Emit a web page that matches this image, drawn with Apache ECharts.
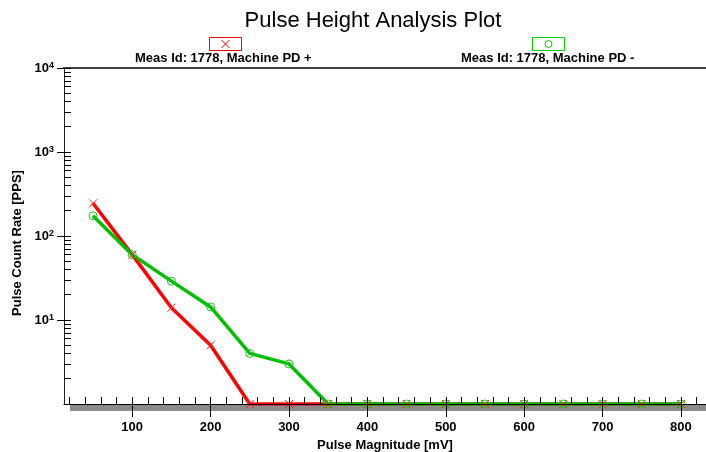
<!DOCTYPE html>
<html>
<head>
<meta charset="utf-8">
<script src="https://cdn.jsdelivr.net/npm/echarts/dist/echarts.min.js"></script>
<style>
html,body{margin:0;padding:0;background:#fff;}
#chart{width:706px;height:452px;}
</style>
</head>
<body>
<div id="chart"></div>
<script>
// ---- data ----
const magnitudes = [50, 100, 150, 200, 250, 300, 350, 400, 450, 500, 550, 600, 650, 700, 750, 800];
// counts of 0 are drawn on the axis floor (1 PPS, the log axis minimum)
const pdPlus  = [245, 60, 14, 5, 1, 1, 1, 1, 1, 1, 1, 1, 1, 1, 1, 1];
const pdMinus = [174, 60, 29, 14.3, 4, 3, 1, 1, 1, 1, 1, 1, 1, 1, 1, 1];
const seriesNames = ['Meas Id: 1778, Machine PD +', 'Meas Id: 1778, Machine PD -'];
const xLabelTicks = [100, 200, 300, 400, 500, 600, 700, 800];
const xMinorTicks = [20, 40, 60, 80, 100, 120, 140, 160, 180, 200, 220, 240, 260, 280, 300,
  320, 340, 360, 380, 400, 420, 440, 460, 480, 500, 520, 540, 560, 580, 600,
  620, 640, 660, 680, 700, 720, 740, 760, 780, 800, 820];
const yLabelTicks = [10, 100, 1000, 10000];
const yMinorTicks = [2, 3, 4, 5, 6, 7, 8, 9, 10, 20, 30, 40, 50, 60, 70, 80, 90, 100,
  200, 300, 400, 500, 600, 700, 800, 900, 1000, 2000, 3000, 4000, 5000, 6000, 7000, 8000, 9000, 10000];

const FONT = '"Liberation Sans", Arial, sans-serif';
const RED = '#ff0000';
const GREEN = '#00c000';
const X_MIN = 13, X_MAX = 832;

const chart = echarts.init(document.getElementById('chart'));
const boxCross = 'path://M0,0H32V13H0Z M12,2.5L20,10.5 M20,2.5L12,10.5';
const boxCircle = 'path://M0,0H32V13H0Z M19.5,6.5A3.5,3.5 0 1 1 12.5,6.5A3.5,3.5 0 1 1 19.5,6.5';

const legendText = {fontFamily: FONT, fontWeight: 'bold', fontSize: 13, color: '#000'};

const option = {
  backgroundColor: '#fff',
  animation: false,
  title: {
    text: 'Pulse Height Analysis Plot',
    left: 373, top: 10, padding: 0, textAlign: 'center',
    textStyle: {fontFamily: FONT, fontWeight: 'normal', fontSize: 22, color: '#000'}
  },
  legend: [
    {data: [seriesNames[0]], left: 209, top: 37, padding: 0, itemWidth: 32, itemHeight: 13,
     icon: boxCross, selectedMode: false, formatter: () => '',
     itemStyle: {color: 'transparent', borderColor: RED, borderWidth: 1}},
    {data: [seriesNames[1]], left: 532, top: 37, padding: 0, itemWidth: 32, itemHeight: 13,
     icon: boxCircle, selectedMode: false, formatter: () => '',
     itemStyle: {color: 'transparent', borderColor: '#00d000', borderWidth: 1}},
    {data: [seriesNames[0]], left: 130, top: 52, padding: 0, itemWidth: 0, itemHeight: 13,
     icon: 'none', selectedMode: false, textStyle: legendText},
    {data: [seriesNames[1]], left: 456, top: 52, padding: 0, itemWidth: 0, itemHeight: 13,
     icon: 'none', selectedMode: false, textStyle: legendText}
  ],
  grid: {left: 64, right: 0, top: 68, bottom: 48, containLabel: false, outerBoundsMode: 'none'},
  xAxis: [
    {
      type: 'value', min: X_MIN, max: X_MAX, position: 'bottom', z: 5,
      name: 'Pulse Magnitude [mV]', nameLocation: 'middle', nameGap: 32,
      nameTextStyle: {fontFamily: FONT, fontWeight: 'bold', fontSize: 13, color: '#000'},
      axisLine: {show: true, lineStyle: {color: '#000', width: 1}},
      axisTick: {show: true, inside: true, length: 7, customValues: xMinorTicks,
                 lineStyle: {color: '#000', width: 1}},
      axisLabel: {customValues: xLabelTicks, margin: 17, fontFamily: FONT, fontWeight: 'bold',
                  fontSize: 13, color: '#000'},
      splitLine: {show: false}
    },
    {
      type: 'value', min: X_MIN, max: X_MAX, position: 'bottom', z: 5,
      axisLine: {show: false},
      axisTick: {show: true, inside: false, length: 13, customValues: xLabelTicks,
                 lineStyle: {color: '#000', width: 1}},
      axisLabel: {show: false},
      splitLine: {show: false}
    },
    {
      type: 'value', min: X_MIN, max: X_MAX, position: 'top',
      axisLine: {show: true, lineStyle: {color: '#444', width: 2}},
      axisTick: {show: false}, axisLabel: {show: false}, splitLine: {show: false}
    }
  ],
  yAxis: [
    {
      type: 'log', logBase: 10, min: 1, max: 10000, position: 'left',
      name: 'Pulse Count Rate [PPS]', nameLocation: 'middle', nameGap: 39,
      nameTextStyle: {fontFamily: FONT, fontWeight: 'bold', fontSize: 13, color: '#000',
                      padding: [0, 14, 0, 0]},
      axisLine: {show: true, lineStyle: {color: '#222', width: 1}},
      axisTick: {show: true, inside: true, length: 7, customValues: yMinorTicks,
                 lineStyle: {color: '#000', width: 1}},
      axisLabel: {
        customValues: yLabelTicks, margin: 10,
        formatter: v => '{b|10}{s|' + Math.round(Math.log10(v)) + '}',
        rich: {
          b: {fontFamily: FONT, fontWeight: 'bold', fontSize: 13, color: '#000'},
          s: {fontFamily: FONT, fontWeight: 'bold', fontSize: 9, color: '#000', verticalAlign: 'top'}
        }
      },
      splitLine: {show: false}
    },
    {
      type: 'log', logBase: 10, min: 1, max: 10000, position: 'left',
      axisLine: {show: false},
      axisTick: {show: true, inside: false, length: 7, customValues: yLabelTicks,
                 lineStyle: {color: '#000', width: 1}},
      axisLabel: {show: false},
      splitLine: {show: false}
    }
  ],
  graphic: [
    {type: 'rect', z: 3, silent: true, shape: {x: 70, y: 405, width: 636, height: 6},
     style: {fill: '#8c8c8c'}}
  ],
  series: [
    {
      name: seriesNames[0], type: 'line', xAxisIndex: 0, yAxisIndex: 0,
      data: magnitudes.map((m, i) => [m, pdPlus[i]]),
      symbol: 'path://M0,0L8,8M8,0L0,8', symbolSize: 8, showAllSymbol: true,
      lineStyle: {color: RED, width: 3.5},
      itemStyle: {color: 'transparent', borderColor: '#ff2020', borderWidth: 1}
    },
    {
      name: seriesNames[1], type: 'line', xAxisIndex: 0, yAxisIndex: 0,
      data: magnitudes.map((m, i) => [m, pdMinus[i]]),
      symbol: 'circle', symbolSize: 8, showAllSymbol: true,
      lineStyle: {color: GREEN, width: 3.5},
      itemStyle: {color: 'transparent', borderColor: '#20c020', borderWidth: 1}
    }
  ]
};
chart.setOption(option);
</script>
</body>
</html>
